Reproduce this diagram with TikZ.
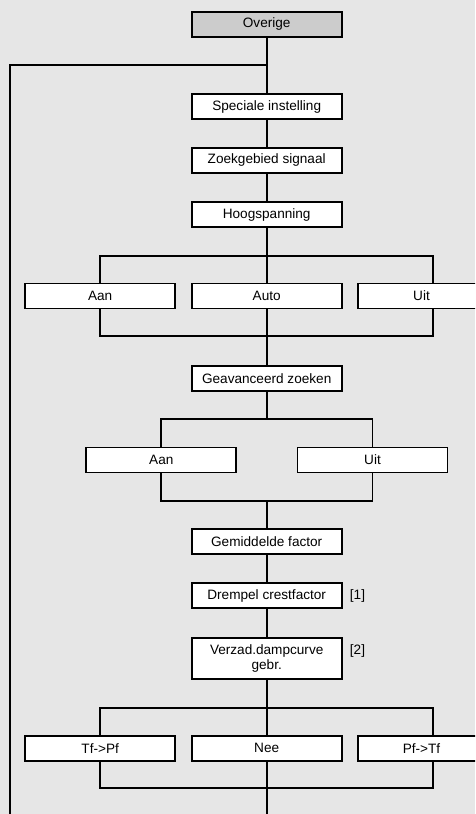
\documentclass[tikz,border=0pt]{standalone}
\usepackage{fontspec}
\setmainfont{Liberation Sans}
\definecolor{bgGrey}{HTML}{E6E6E6}
\definecolor{headGrey}{HTML}{CCCCCC}
\begin{document}
\begin{tikzpicture}[x=1pt,y=-1pt,
  menubox/.style={draw=black, line width=1.9pt, fill=white, rectangle,
    minimum width=150pt, minimum height=25pt, inner sep=0pt,
    font=\fontsize{13.6}{15.5}\selectfont, align=center},
  headbox/.style={menubox, fill=headGrey},
  tallbox/.style={menubox, minimum height=41.5pt},
  edgebox/.style={menubox, minimum width=126.5pt},
  link/.style={line width=1.9pt, line cap=rect},
  note/.style={font=\fontsize{13.6}{15.5}\selectfont, inner sep=0pt}]
  % canvas
  \fill[bgGrey] (0,0) rectangle (475,814);
  \useasboundingbox (0,0) rectangle (475,814);
  \clip (0,0) rectangle (475,814);

  % main column
  \node[headbox] (over) at (266.7,24.3) {Overige};
  \node[menubox] (spec) at (266.7,106.5) {Speciale instelling};
  \node[menubox] (zoek) at (266.7,160.3) {Zoekgebied signaal};
  \node[menubox] (hoog) at (266.7,214.8) {Hoogspanning};
  \node[menubox] (aanA) at (100.2,296) {Aan};
  \node[menubox] (auto) at (266.7,296) {Auto};
  \node[edgebox] (uitA) at (421.5,296) {Uit};
  \node[menubox] (geav) at (266.7,378.3) {Geavanceerd zoeken};
  \node[menubox] (aanB) at (161.3,460) {Aan};
  \node[menubox] (uitB) at (372.5,460) {Uit};
  \node[menubox] (gemf) at (266.7,541.2) {Gemiddelde factor};
  \node[menubox] (drem) at (266.7,595.8) {Drempel crestfactor};
  \node[tallbox] (verz) at (266.7,658.3) {Verzad.dampcurve\\gebr.};
  \node[menubox] (tfpf) at (100.2,748.3) {Tf->Pf};
  \node[menubox] (nee)  at (266.7,748.3) {Nee};
  \node[edgebox] (pftf) at (421.5,748.3) {Pf->Tf};

  % footnote marks
  \node[note] (n1) at (357.5,595.8) {[1]};
  \node[note] (n2) at (357.5,651) {[2]};

  % junction points
  \coordinate (loopT) at (266.7,65);
  \coordinate (loopL) at (10,65);
  \coordinate (loopB) at (10,816);
  \coordinate (endB)  at (266.7,816);
  \coordinate (rcol)  at (433.3,0);
  \coordinate (brA) at (266.7,256);
  \coordinate (mgA) at (266.7,336);
  \coordinate (brB) at (266.7,419);
  \coordinate (mgB) at (266.7,501);
  \coordinate (brC) at (266.7,707.7);
  \coordinate (mgC) at (266.7,788.3);

  % vertical spine
  \draw[link] (over) -- (spec);
  \draw[link] (spec) -- (zoek);
  \draw[link] (zoek) -- (hoog);
  \draw[link] (hoog) -- (auto);
  \draw[link] (auto) -- (geav);
  \draw[link] (geav) -- (brB);
  \draw[link] (mgB) -- (gemf);
  \draw[link] (gemf) -- (drem);
  \draw[link] (drem) -- (verz);
  \draw[link] (verz) -- (nee);
  \draw[link] (nee) -- (endB);

  % return path on the left
  \draw[link] (loopT) -- (loopL) -- (loopB);

  % branches and merges
  \draw[link] (aanA.north) |- (brA) -| (rcol |- uitA.north);
  \draw[link] (aanA.south) |- (mgA) -| (rcol |- uitA.south);
  \draw[link] (aanB.north) |- (brB) -| (uitB.north);
  \draw[link] (aanB.south) |- (mgB) -| (uitB.south);
  \draw[link] (tfpf.north) |- (brC) -| (rcol |- pftf.north);
  \draw[link] (tfpf.south) |- (mgC) -| (rcol |- pftf.south);
\end{tikzpicture}
\end{document}
